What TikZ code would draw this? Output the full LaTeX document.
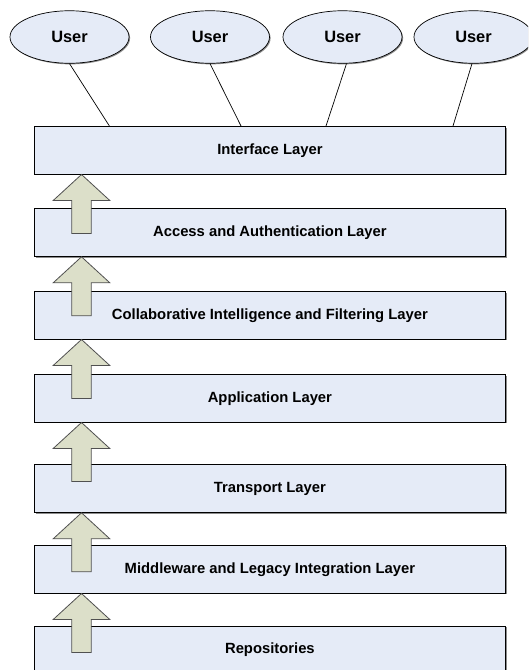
\documentclass[tikz,border=0pt]{standalone}
\usepackage{fontspec}
\setmainfont{Liberation Sans}
\usetikzlibrary{shapes.geometric,shadows}
\definecolor{boxfill}{RGB}{229,235,247}
\definecolor{arrowfill}{RGB}{220,223,201}
\definecolor{arrowline}{RGB}{80,80,80}
\tikzset{
  myshadow/.style={drop shadow={shadow xshift=1.1pt,shadow yshift=-1.1pt,fill=black,opacity=0.45}},
  layerbox/.style={draw=black,line width=0.8pt,fill=boxfill,myshadow,minimum width=471,minimum height=47.7,inner sep=0,anchor=north west,font=\fontsize{14.8}{17}\selectfont\bfseries},
  userell/.style={ellipse,draw=black,line width=0.7pt,fill=boxfill,myshadow,minimum width=119,minimum height=52.5,inner sep=0,font=\fontsize{16.4}{19}\selectfont\bfseries},
  conn/.style={draw=black,line width=0.7pt},
  blockarrowstyle/.style={draw=arrowline,line width=0.8pt,fill=arrowfill,line join=miter},
  uparrow/.pic={\path[blockarrowstyle] (0,0) -- (28.3,26) -- (9.7,26) -- (9.7,59) -- (-9.7,59) -- (-9.7,26) -- (-28.3,26) -- cycle;}
}
\begin{document}
\begin{tikzpicture}[x=1pt,y=-1pt]
\useasboundingbox (0,0) rectangle (528,670);
\clip (0,0) rectangle (528,670);
\fill[white] (0,0) rectangle (528,670);
% users
\node[userell] (u1) at (69.5,37) {User};
\node[userell] (u2) at (210,37) {User};
\node[userell] (u3) at (342.5,37) {User};
\node[userell] (u4) at (473.5,37) {User};
% layers
\node[layerbox] (iface) at (34,126) {Interface Layer};
\node[layerbox] (access) at (34,208.3) {Access and Authentication Layer};
\node[layerbox] (collab) at (34,291) {Collaborative Intelligence and Filtering Layer};
\node[layerbox] (app) at (34,374) {Application Layer};
\node[layerbox] (trans) at (34,464.3) {Transport Layer};
\node[layerbox] (middle) at (34,545) {Middleware and Legacy Integration Layer};
\node[layerbox] (repo) at (34,625.7) {Repositories};
% connectors user -> interface
\coordinate (c1) at (109.4,126);
\coordinate (c2) at (241,126);
\coordinate (c3) at (326,126);
\coordinate (c4) at (453,126);
\draw[conn] (u1.south) -- (c1);
\draw[conn] (u2.south) -- (c2);
\draw[conn] ([xshift=4]u3.south) -- (c3);
\draw[conn] ([xshift=-1.5]u4.south) -- (c4);
% block arrows
\pic at ([xshift=47.5]iface.south west) {uparrow};
\pic at ([xshift=47.5]access.south west) {uparrow};
\pic at ([xshift=47.5]collab.south west) {uparrow};
\pic at ([xshift=47.5]app.south west) {uparrow};
\pic at ([xshift=47.5]trans.south west) {uparrow};
\pic at ([xshift=47.5]middle.south west) {uparrow};
\end{tikzpicture}
\end{document}
